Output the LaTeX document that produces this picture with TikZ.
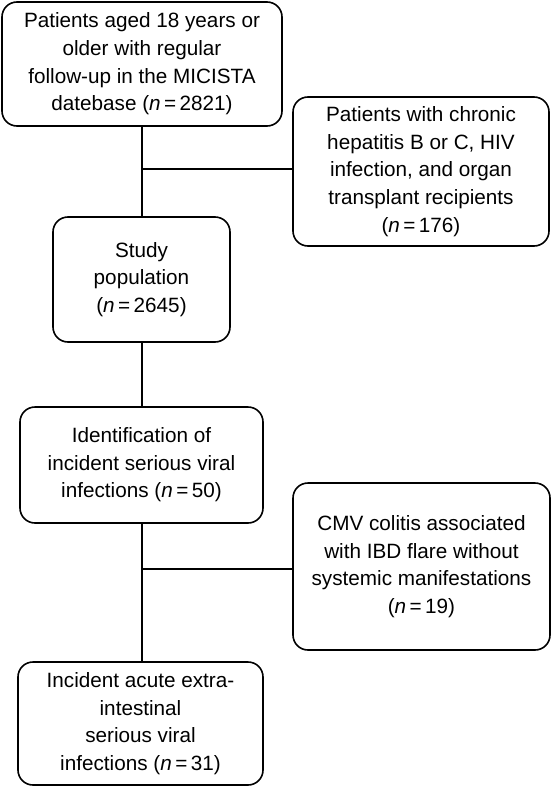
\documentclass[tikz,border=0pt]{standalone}
\usepackage{fontspec}
\setmainfont{Liberation Sans}
\usepackage{tikz}
\newcommand{\nval}[1]{\textit{n}\,=\,#1}

\begin{document}
\begin{tikzpicture}[x=1pt,y=-1pt,
    main node/.style={draw,line width=1.6pt,rounded corners=15pt,align=center,
      inner sep=0pt,font=\fontsize{20.7}{27.6}\selectfont},
    every edge/.style={draw,line width=1.3pt}]
    \useasboundingbox (0,0) rectangle (559,787);
    \node[main node,minimum width=280pt,minimum height=124pt] (1) at (142,64)
      {Patients aged 18 years or\\older with regular\\follow-up in the MICISTA\\datebase (\nval{2821})};
    \node[main node,minimum width=256pt,minimum height=149pt] (2) at (421,171.5)
      {Patients with chronic\\hepatitis B or C, HIV\\infection, and organ\\transplant recipients\\(\nval{176})};
    \node[main node,minimum width=177pt,minimum height=125pt] (3) at (141.5,279.5)
      {Study\\population\\(\nval{2645})};
    \node[main node,minimum width=243pt,minimum height=116pt] (4) at (141.5,465)
      {Identification of\\incident serious viral\\infections (\nval{50})};
    \node[main node,minimum width=257pt,minimum height=167pt] (5) at (421.5,566.5)
      {CMV colitis associated\\with IBD flare without\\systemic manifestations\\(\nval{19})};
    \node[main node,minimum width=245pt,minimum height=123pt] (6) at (140.5,723.5)
      {Incident acute extra-\\intestinal\\serious viral\\infections (\nval{31})};

    \coordinate (a) at (142,169);
    \coordinate (b) at (142,569);

    \path
    (1.south -| a) edge (3.north -| a)
    (a) edge (a -| 2.west)
    (3.south -| a) edge (4.north -| a)
    (4.south -| b) edge (6.north -| b)
    (b) edge (b -| 5.west);
  \end{tikzpicture}
\end{document}
